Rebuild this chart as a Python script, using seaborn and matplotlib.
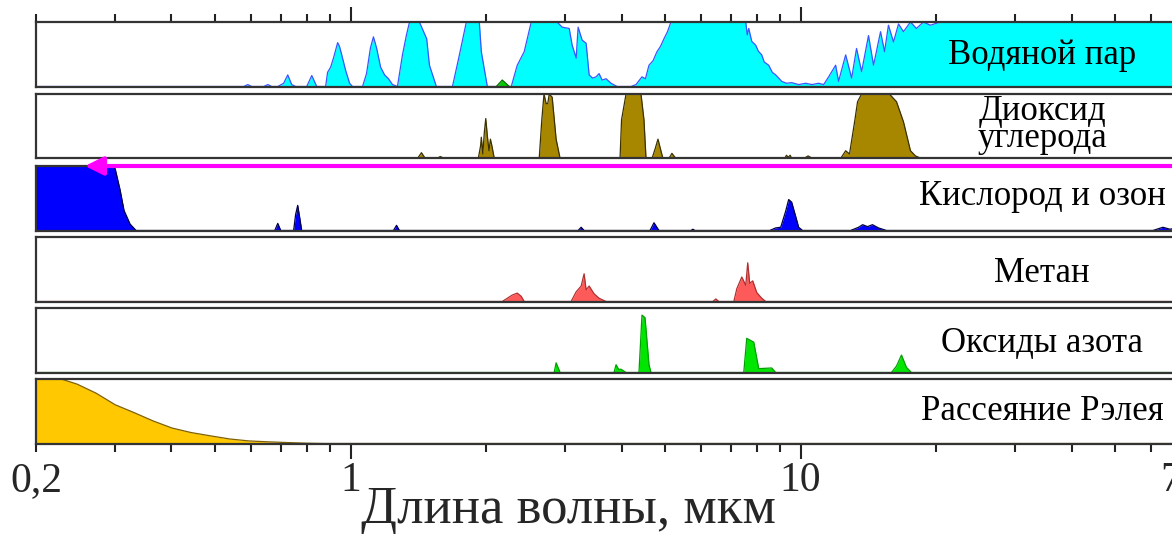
import matplotlib
matplotlib.use("Agg")
import matplotlib.pyplot as plt
import seaborn as sns

sns.set_theme(style="white")
plt.rcParams['font.family'] = ['Liberation Serif', 'DejaVu Serif']

# ---------------- data: (wavelength, relative absorption) ----------------
WATER = [(0.2, 0), (0.579, 0), (0.591, 0.03), (0.603, 0), (0.641, 0), (0.655, 0.03), (0.668, 0),
         (0.689, 0), (0.710, 0.05), (0.725, 0.18), (0.740, 0.03), (0.755, 0), (0.799, 0),
         (0.820, 0.17), (0.841, 0), (0.880, 0), (0.889, 0.22), (0.903, 0.30), (0.917, 0.45),
         (0.936, 0.68), (0.945, 0.62), (0.955, 0.50), (0.975, 0.25), (0.995, 0.05), (1.010, 0),
         (1.063, 0), (1.085, 0.20), (1.107, 0.60), (1.124, 0.77), (1.142, 0.60), (1.166, 0.30),
         (1.190, 0.18), (1.214, 0.12), (1.239, 0.03), (1.271, 0), (1.304, 0.49), (1.331, 0.80),
         (1.352, 1.0), (1.422, 1.0), (1.476, 0.74), (1.497, 0.33), (1.551, 0), (1.684, 0),
         (1.745, 0.49), (1.808, 1.0), (1.932, 1.0), (1.952, 0.54), (2.013, 0), (2.275, 0),
         (2.346, 0.33), (2.431, 0.54), (2.520, 1.0), (2.877, 1.0), (2.952, 0.92), (3.060, 0.90),
         (3.107, 0.64), (3.171, 0.44), (3.203, 0.92), (3.269, 0.72), (3.337, 0.67), (3.389, 0.18),
         (3.450, 0.13), (3.512, 0.15), (3.566, 0.20), (3.621, 0.10), (3.696, 0.12), (3.791, 0.05),
         (3.909, 0), (4.199, 0), (4.307, 0.03), (4.441, 0.15), (4.52, 0.12), (4.603, 0.33),
         (4.70, 0.40), (4.795, 0.54), (4.88, 0.62), (4.969, 0.74), (5.06, 0.85), (5.150, 1.0),
         (7.551, 1.0), (7.610, 0.80), (7.668, 0.90), (7.787, 0.70), (7.947, 0.64), (8.05, 0.55),
         (8.195, 0.49), (8.30, 0.38), (8.492, 0.33), (8.65, 0.22), (8.801, 0.18), (9.077, 0.08),
         (9.30, 0.05), (9.550, 0.06), (9.90, 0.03), (10.26, 0.05), (10.60, 0.03), (10.96, 0.05),
         (11.25, 0.03), (11.54, 0.15), (11.96, 0.33), (12.14, 0.08), (12.59, 0.49), (12.98, 0.13),
         (13.31, 0.59), (13.66, 0.23), (14.15, 0.79), (14.52, 0.33), (15.05, 0.85), (15.36, 0.54),
         (15.67, 0.95), (16.08, 0.69), (16.50, 0.97), (16.92, 0.85), (17.54, 1.0), (18.08, 0.90),
         (18.74, 1.0), (19.42, 0.95), (20.44, 1.0), (70, 1.0)]

WATER_GREEN = [(2.108, 0), (2.173, 0.10), (2.252, 0)]

CO2 = [(0.2, 0), (1.408, 0), (1.437, 0.09), (1.466, 0), (1.551, 0), (1.583, 0.03), (1.616, 0),
       (1.922, 0), (1.945, 0.20), (1.952, 0.33), (1.967, 0.07), (1.982, 0.40), (1.997, 0.62),
       (2.013, 0.35), (2.030, 0.12), (2.045, 0.30), (2.060, 0.20), (2.086, 0),
       (2.625, 0), (2.66, 0.60), (2.690, 1.0), (2.720, 0.85), (2.742, 0.85), (2.763, 1.0),
       (2.805, 0.95), (2.862, 0.30), (2.921, 0),
       (3.969, 0), (4.00, 0.60), (4.093, 1.0), (4.418, 1.0), (4.486, 0.60), (4.533, 0),
       (4.674, 0), (4.75, 0.15), (4.819, 0.30), (4.88, 0.15), (4.943, 0),
       (5.097, 0), (5.176, 0.08), (5.282, 0),
       (9.216, 0), (9.30, 0.05), (9.383, 0.02), (9.48, 0.05), (9.55, 0),
       (10.16, 0), (10.39, 0.04), (10.63, 0),
       (12.27, 0), (12.59, 0.12), (12.84, 0.07), (13.18, 0.57), (13.38, 0.88), (13.66, 1.0),
       (15.75, 1.0), (16.33, 0.88), (16.92, 0.57), (17.54, 0.12), (17.99, 0.04), (18.55, 0),
       (70, 0)]

OXYGEN_OZONE = [(0.2, 1.0), (0.2967, 1.0), (0.2998, 0.96), (0.3075, 0.63), (0.3138, 0.31),
                (0.3236, 0.10), (0.3337, 0), (0.6785, 0), (0.689, 0.11), (0.6996, 0),
                (0.7472, 0), (0.755, 0.25), (0.7630, 0.39), (0.7708, 0.20), (0.7787, 0),
                (1.245, 0), (1.265, 0.08), (1.284, 0), (3.203, 0), (3.253, 0.05), (3.303, 0),
                (4.627, 0), (4.722, 0.12), (4.844, 0), (5.704, 0), (5.762, 0.02), (5.821, 0),
                (8.537, 0), (8.8, 0.04), (9.030, 0.05), (9.263, 0.30), (9.406, 0.48),
                (9.55, 0.44), (9.748, 0.22), (9.899, 0.05), (10.10, 0),
                (12.91, 0), (13.45, 0.05), (13.73, 0.09), (14.08, 0.06), (14.44, 0.09),
                (14.89, 0.04), (15.51, 0), (60.64, 0), (63.81, 0.05), (66.14, 0.02), (70, 0.05)]

METHANE = [(0.2, 0), (2.173, 0), (2.229, 0.05), (2.287, 0.10), (2.346, 0.13), (2.394, 0.08),
           (2.431, 0), (3.090, 0), (3.171, 0.15), (3.253, 0.24), (3.303, 0.43), (3.337, 0.18),
           (3.389, 0.24), (3.475, 0.12), (3.566, 0.05), (3.696, 0), (6.381, 0), (6.480, 0.04),
           (6.580, 0), (7.105, 0), (7.215, 0.20), (7.401, 0.38), (7.551, 0.25), (7.628, 0.60),
           (7.706, 0.28), (7.826, 0.32), (7.987, 0.14), (8.195, 0.05), (8.365, 0), (70, 0)]

NITROGEN_OXIDES = [(0.2, 0), (2.834, 0), (2.862, 0.15), (2.921, 0), (3.849, 0), (3.889, 0.12),
                   (3.940, 0.05), (3.991, 0.05), (4.093, 0), (4.373, 0), (4.441, 0.89),
                   (4.510, 0.85), (4.603, 0.12), (4.650, 0), (7.475, 0), (7.590, 0.53),
                   (7.867, 0.47), (8.069, 0.06), (8.624, 0.07), (8.801, 0), (15.91, 0),
                   (16.33, 0.10), (16.75, 0.27), (17.18, 0.08), (17.63, 0), (70, 0)]

RAYLEIGH = [(0.2, 1.0), (0.2275, 1.0), (0.2469, 0.92), (0.272, 0.78), (0.30, 0.60), (0.33, 0.48),
            (0.364, 0.35), (0.401, 0.24), (0.442, 0.17), (0.487, 0.12), (0.539, 0.07),
            (0.594, 0.04), (0.655, 0.026), (0.721, 0.015), (0.795, 0.005), (0.876, 0), (70, 0)]

PANEL_LABELS = ["Водяной пар", "Диоксид\nуглерода", "Кислород и озон",
                "Метан", "Оксиды азота", "Рассеяние Рэлея"]
FILL_COLORS = ["#00ffff", "#a88700", "#0000ff", "#ff5a5a", "#00e600", "#ffc800"]
EDGE_COLORS = ["#3a55ff", "#3a3000", "#000040", "#b03030", "#00a000", "#806000"]
SERIES = [WATER, CO2, OXYGEN_OZONE, METHANE, NITROGEN_OXIDES, RAYLEIGH]

MAJOR_TICKS = [1, 10]
MAJOR_LABELS = ["1", "10"]
MINOR_TICKS = [0.2, 0.3, 0.4, 0.5, 0.6, 0.7, 0.8, 0.9, 2, 3, 4, 5, 6, 7, 8, 9,
               20, 30, 40, 50, 60, 70]
MINOR_LABELS = ["0,2"] + [""] * 20 + ["70"]
XLABEL = "Длина волны, мкм"

# ---------------- layout (pixels) ----------------
FW, FH = 1172, 536
LEFT_PX, RIGHT_PX = 36, 1181
TOPS_PX = [22, 94, 166, 237, 308, 379]
H_PX = 64.5
LABEL_Y = [0.48, 0.52, 0.53, 0.44, 0.45, 0.50]

fig = plt.figure(figsize=(FW / 100, FH / 100), dpi=100)
fig.patch.set_facecolor("white")

axes = []
for i, top in enumerate(TOPS_PX):
    ax = fig.add_axes([LEFT_PX / FW, 1 - (top + H_PX) / FH, (RIGHT_PX - LEFT_PX) / FW, H_PX / FH])
    ax.set_facecolor("white")
    wl = [p[0] for p in SERIES[i]]
    ab = [p[1] for p in SERIES[i]]
    ax.fill_between(wl, 0, ab, color=FILL_COLORS[i], lw=0, zorder=2)
    sns.lineplot(x=wl, y=ab, ax=ax, color=EDGE_COLORS[i], lw=0.9, estimator=None,
                 sort=False, zorder=3)
    ax.set_xscale("log")
    ax.set_xlim(0.2, 70)
    ax.set_ylim(0, 1)
    ax.set_yticks([])
    ax.set_xlabel("")
    ax.set_ylabel("")
    for s in ax.spines.values():
        s.set_color("#333333")
        s.set_linewidth(1.6)
        s.set_zorder(5)
    ax.set_xticks(MAJOR_TICKS)
    ax.set_xticks(MINOR_TICKS, minor=True)
    ax.tick_params(which="both", bottom=False, top=False, labelbottom=False, labeltop=False,
                   left=False, right=False)
    tx = (1042 - LEFT_PX) / (RIGHT_PX - LEFT_PX)
    ax.text(tx, LABEL_Y[i], PANEL_LABELS[i], transform=ax.transAxes, ha="center", va="center",
            fontsize=25, linespacing=0.78, color="black", zorder=6)
    axes.append(ax)

# green peak inside the water vapour panel
gwl = [p[0] for p in WATER_GREEN]
gab = [p[1] for p in WATER_GREEN]
axes[0].fill_between(gwl, 0, gab, color="#00cc00", lw=0, zorder=4)
sns.lineplot(x=gwl, y=gab, ax=axes[0], color="#006600", lw=0.9, estimator=None, sort=False, zorder=4)

# ticks: top of first panel, bottom of last panel
top_ax = axes[0]
top_ax.tick_params(which="both", top=True, direction="out", color="#222222", width=1.5)
top_ax.tick_params(which="major", length=11)
top_ax.tick_params(which="minor", length=5.5)

bot = axes[-1]
bot.set_xticklabels(MAJOR_LABELS)
bot.set_xticklabels(MINOR_LABELS, minor=True)
bot.tick_params(which="both", bottom=True, labelbottom=True, direction="out",
                color="#222222", width=1.5, labelsize=30)
bot.tick_params(which="major", length=11, pad=2)
bot.tick_params(which="minor", length=5.5, pad=7.5)

# magenta arrow across top of oxygen panel
ax3 = axes[2]
ax3.annotate("", xy=(0.257, 1.0), xycoords=("data", "axes fraction"),
             xytext=(80, 1.0), textcoords=("data", "axes fraction"),
             arrowprops=dict(arrowstyle="-|>,head_length=1.1,head_width=0.55",
                             color="#ff00ff", lw=3, mutation_scale=10, shrinkA=0, shrinkB=0),
             annotation_clip=False, zorder=10)

fig.text(568 / FW, (FH - 523) / FH, XLABEL, ha="center", va="baseline", fontsize=38)

fig.savefig("out.png", dpi=100)
